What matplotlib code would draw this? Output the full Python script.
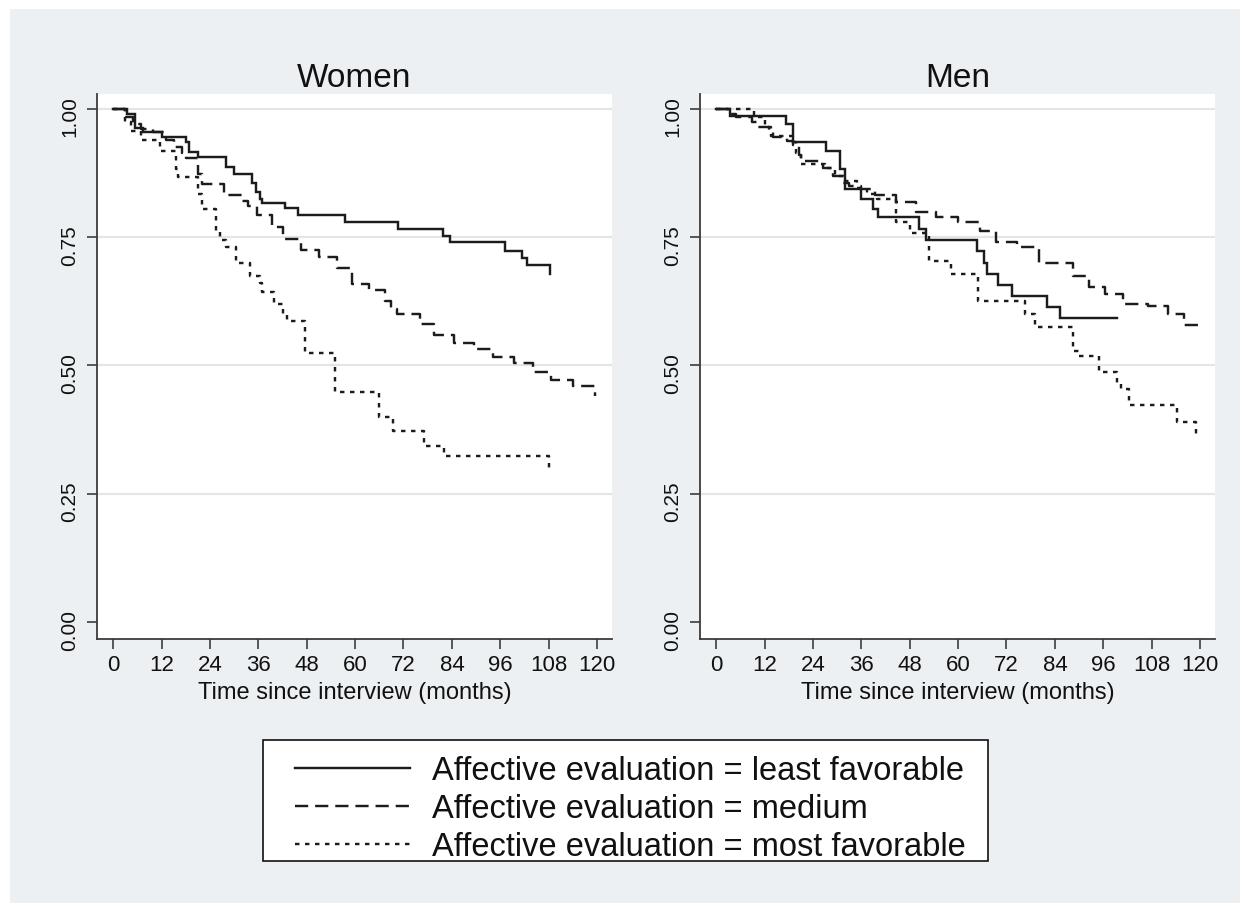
import matplotlib
matplotlib.use("Agg")
import matplotlib.pyplot as plt
from matplotlib.patches import Rectangle
from matplotlib.lines import Line2D
from matplotlib.transforms import ScaledTranslation

plt.rcParams['font.family'] = ['Liberation Sans', 'DejaVu Sans']
plt.rcParams['lines.scale_dashes'] = False

# ---------------- data (Kaplan-Meier step points: time, survival after step) ----
panel_titles = ["Women", "Men"]
series_labels = ["Affective evaluation = least favorable",
                 "Affective evaluation = medium",
                 "Affective evaluation = most favorable"]
x_ticks = [0, 12, 24, 36, 48, 60, 72, 84, 96, 108, 120]
y_ticks = [0.00, 0.25, 0.50, 0.75, 1.00]
y_ticklabels = ["0.00", "0.25", "0.50", "0.75", "1.00"]
x_label = "Time since interview (months)"

women_least_t = [0, 3.5, 5.5, 7.5, 12, 18, 18.8, 21, 28, 30, 34.5, 35.5, 36.3, 37,
                 42.6, 45.8, 57.5, 70.7, 81.8, 83.6, 97.2, 101.4, 102.7, 108.4]
women_least_s = [1.0, 0.99, 0.963, 0.955, 0.945, 0.936, 0.916, 0.906, 0.887, 0.873,
                 0.855, 0.838, 0.825, 0.817, 0.807, 0.793, 0.780, 0.766, 0.753,
                 0.740, 0.724, 0.710, 0.695, 0.678]

women_med_t = [0, 3, 5, 7, 10, 13, 15, 17, 18, 21, 22, 27.5, 32, 33.5, 35.7, 39.5,
               42, 46.5, 51, 55.5, 59.3, 63.5, 67.5, 69, 70.5, 76, 79.5, 84.5, 89.5,
               94.3, 99.3, 104, 108.5, 114, 119.5]
women_med_s = [1.0, 0.985, 0.97, 0.96, 0.955, 0.94, 0.925, 0.915, 0.905, 0.873,
               0.853, 0.832, 0.82, 0.81, 0.793, 0.77, 0.746, 0.725, 0.711, 0.690,
               0.659, 0.647, 0.625, 0.61, 0.60, 0.58, 0.56, 0.544, 0.532, 0.516,
               0.505, 0.487, 0.472, 0.46, 0.44]

women_most_t = [0, 3, 4.5, 7, 11.5, 15.5, 16, 21, 22, 25.5, 26.5, 28, 30.5, 34,
                36.5, 37, 40, 42, 43, 47.5, 55, 66, 69.5, 77, 82, 108]
women_most_s = [1.0, 0.975, 0.957, 0.94, 0.918, 0.883, 0.867, 0.835, 0.805, 0.76,
                0.745, 0.73, 0.70, 0.675, 0.66, 0.644, 0.62, 0.60, 0.587, 0.524,
                0.449, 0.40, 0.372, 0.344, 0.324, 0.292]

men_least_t = [0, 3.5, 17.4, 19, 27.3, 30.6, 32, 35.8, 39, 40.2, 50.4, 52, 64.8,
               66.5, 67.2, 69.8, 73.3, 82, 85.2, 99.4]
men_least_s = [1.0, 0.987, 0.971, 0.936, 0.918, 0.883, 0.844, 0.825, 0.805, 0.789,
               0.766, 0.745, 0.724, 0.70, 0.678, 0.657, 0.636, 0.614, 0.593, 0.593]

men_med_t = [0, 3, 5, 9, 10.5, 13, 14, 17.5, 19, 20.5, 21, 26.5, 29, 31.5, 33, 36,
             39.5, 44.5, 49.5, 54.5, 60, 65.5, 69.5, 74.5, 80, 88.5, 92.5, 96.5,
             101, 107, 112, 116, 119.5]
men_med_s = [1.0, 0.99, 0.984, 0.975, 0.965, 0.955, 0.946, 0.937, 0.93, 0.91,
             0.899, 0.885, 0.87, 0.855, 0.85, 0.844, 0.832, 0.819, 0.80, 0.789,
             0.78, 0.762, 0.74, 0.73, 0.70, 0.675, 0.653, 0.64, 0.62, 0.616,
             0.60, 0.579, 0.579]

men_most_t = [0, 9.5, 12, 13.5, 19, 19.8, 21, 27, 29.5, 32, 35, 37.5, 40, 44.5, 48,
              52.7, 58.3, 65, 76.6, 79, 88.5, 90, 95, 99.5, 100.5, 102.3, 114.3, 119]
men_most_s = [1.0, 0.984, 0.965, 0.947, 0.936, 0.915, 0.893, 0.885, 0.87, 0.86,
              0.845, 0.835, 0.825, 0.78, 0.758, 0.704, 0.678, 0.626, 0.60, 0.575,
              0.529, 0.519, 0.487, 0.465, 0.454, 0.423, 0.39, 0.357]

panels = [
    [(women_least_t, women_least_s), (women_med_t, women_med_s), (women_most_t, women_most_s)],
    [(men_least_t, men_least_s), (men_med_t, men_med_s), (men_most_t, men_most_s)],
]

# ---------------- styling ----------------
W, H = 1247, 912
line_color = "#1c1c1c"
styles = ["-", (0, (9.5, 5)), (0, (3.2, 4))]
bg_color = "#ecf0f2"
grid_color = "#e3e6e8"
axis_color = "#3c3c3c"
lw = 1.75

fig = plt.figure(figsize=(W / 100, H / 100), dpi=100, facecolor="white")
fig.patches.append(Rectangle((10 / W, 8 / H), 1230 / W, 894 / H,
                             transform=fig.transFigure, facecolor=bg_color,
                             edgecolor="none", zorder=-10))

panel_left_px = [97, 700]
for p, (title, curves) in enumerate(zip(panel_titles, panels)):
    left = panel_left_px[p]
    ax = fig.add_axes([left / W, 1 - 640 / H, 515 / W, 545 / H])
    ax.set_facecolor("white")
    ax.set_xlim(-4.0, 123.7)
    ax.set_ylim(-0.033, 1.029)
    for (t, s), ls in zip(curves, styles):
        ax.step(t, s, where="post", color=line_color, lw=lw, linestyle=ls,
                solid_joinstyle="miter")
    for yv in [0.25, 0.5, 0.75, 1.0]:
        ax.axhline(yv, color=grid_color, lw=1.6, zorder=0)
    ax.set_xticks(x_ticks)
    ax.set_xticklabels([str(v) for v in x_ticks], fontsize=16)
    ax.set_yticks(y_ticks)
    ax.set_yticklabels(y_ticklabels, fontsize=15, rotation=90, va="center")
    ax.tick_params(axis="both", colors=axis_color, length=7, width=1.2,
                   labelcolor="#111111")
    ax.tick_params(axis="x", pad=4)
    ax.tick_params(axis="y", pad=6)
    shift = ScaledTranslation(0, -7 / 100, fig.dpi_scale_trans)
    for lab in ax.get_yticklabels():
        lab.set_transform(lab.get_transform() + shift)
    for sp in ["top", "right"]:
        ax.spines[sp].set_visible(False)
    for sp in ["left", "bottom"]:
        ax.spines[sp].set_color(axis_color)
        ax.spines[sp].set_linewidth(1.3)
    ax.set_xlabel(x_label, fontsize=17, labelpad=4, color="#111111")
    ax.set_title(title, fontsize=24, pad=6, color="#111111")

# legend box
fig.patches.append(Rectangle((263 / W, 1 - 862 / H), 725 / W, 121 / H,
                             transform=fig.transFigure, facecolor="white",
                             edgecolor="#111111", lw=1.2, zorder=1))
handles = [Line2D([], [], color=line_color, lw=lw, linestyle=ls) for ls in styles]
leg = fig.legend(handles, series_labels, loc="upper left",
                 bbox_to_anchor=(295 / W, 1 - 756 / H), fontsize=23.5,
                 handlelength=83 / 23.5, handletextpad=16 / 23.5, labelspacing=0.22,
                 borderpad=0.0, borderaxespad=0.0, frameon=False)
leg.set_zorder(2)
for txt in leg.get_texts():
    txt.set_color("#111111")

fig.savefig("out.png", dpi=100, facecolor="white")
